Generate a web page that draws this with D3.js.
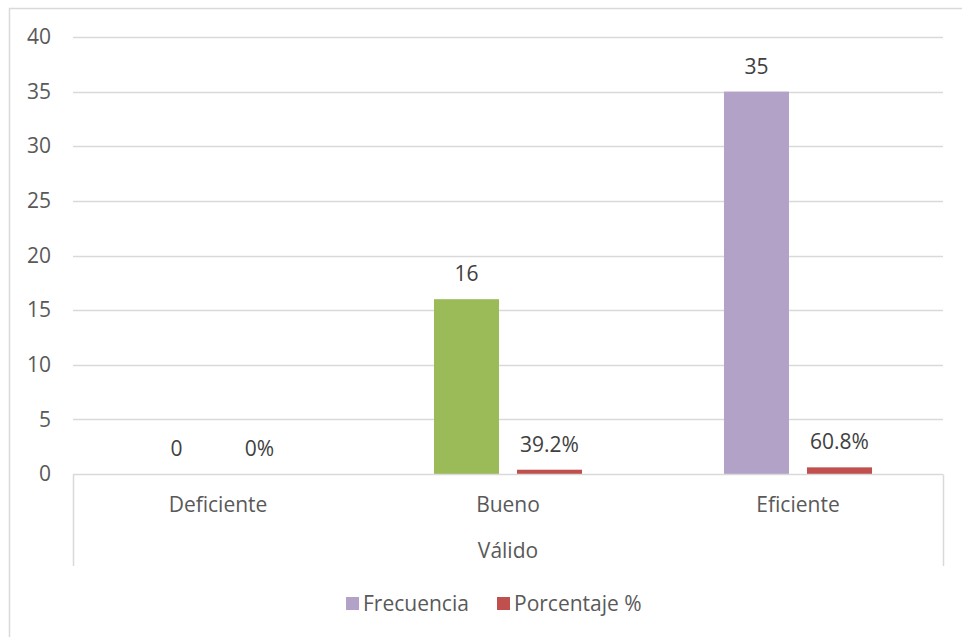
<!DOCTYPE html>
<html>
<head>
<meta charset="utf-8">
<script src="https://cdn.jsdelivr.net/npm/d3@7"></script>
<style>
  html, body { margin: 0; padding: 0; background: #fff; }
  svg { display: block; }
  text { font-family: "Open Sans", "Noto Sans", sans-serif; fill: #595959; }
</style>
</head>
<body>
<svg id="chart" width="962" height="637"></svg>
<script>
// Chart data
const categories = ["Deficiente", "Bueno", "Eficiente"];
const seriesNames = ["Frecuencia", "Porcentaje %"];
const frecuencia = [0, 16, 35];
const porcentaje = [0, 0.392, 0.608];
const yTicks = [0, 5, 10, 15, 20, 25, 30, 35, 40];
const groupLabel = "Válido";

// Colours: Frecuencia bars are coloured per category; percentages in red
const frecuenciaColors = ["#B3A2C7", "#9BBB59", "#B3A2C7"];
const porcentajeColor = "#C0504D";
const legendColors = ["#B3A2C7", "#C0504D"];

const svg = d3.select("#chart");
const fontSize = 21;

const plot = { left: 73, right: 943, top: 37, bottom: 474 };

// Outer chart frame
svg.append("rect")
  .attr("x", 9.5).attr("y", 8.5)
  .attr("width", 1000).attr("height", 700)
  .attr("fill", "none").attr("stroke", "#d9d9d9").attr("stroke-width", 1.5);

const y = d3.scaleLinear().domain([0, 40]).range([plot.bottom, plot.top]);
const x0 = d3.scaleBand().domain(categories).range([plot.left, plot.right]).padding(0);
const x1 = d3.scaleBand().domain(seriesNames).range([0, x0.bandwidth()])
  .paddingInner(18 / 83).paddingOuter(0.855);

// Gridlines
svg.append("g").selectAll("line")
  .data(yTicks.filter(d => d > 0))
  .join("line")
  .attr("x1", plot.left).attr("x2", plot.right)
  .attr("y1", d => Math.round(y(d)) + 0.5).attr("y2", d => Math.round(y(d)) + 0.5)
  .attr("stroke", "#d9d9d9").attr("stroke-width", 1.5);

// Y axis tick labels
const yAxis = d3.axisLeft(y).tickValues(yTicks).tickSize(0).tickPadding(0);
const yg = svg.append("g").attr("transform", `translate(51,0)`).call(yAxis);
yg.select(".domain").remove();
yg.selectAll("text")
  .attr("font-size", fontSize)
  .style("font-family", '"Open Sans", "Noto Sans", sans-serif')
  .attr("fill", "#595959");

// Bars
const rows = categories.map((c, i) => ({ cat: c, i, values: [frecuencia[i], porcentaje[i]] }));
const groups = svg.append("g").selectAll("g")
  .data(rows).join("g")
  .attr("transform", d => `translate(${x0(d.cat)},0)`);

groups.selectAll("rect")
  .data(d => d.values.map((v, k) => ({ v, k, i: d.i })))
  .join("rect")
  .attr("x", d => x1(seriesNames[d.k]))
  .attr("width", x1.bandwidth())
  .attr("y", d => y(d.v))
  .attr("height", d => y(0) - y(d.v))
  .attr("fill", d => d.k === 0 ? frecuenciaColors[d.i] : porcentajeColor);

// Value labels
const pctFmt = v => v === 0 ? "0%" : d3.format(".1%")(v);
groups.selectAll("text.val")
  .data(d => d.values.map((v, k) => ({ v, k })))
  .join("text")
  .attr("class", "val")
  .attr("x", d => x1(seriesNames[d.k]) + x1.bandwidth() / 2)
  .attr("y", d => y(d.v) - 18)
  .attr("text-anchor", "middle")
  .attr("font-size", fontSize)
  .style("fill", "#404040")
  .text(d => d.k === 0 ? d3.format("d")(d.v) : pctFmt(d.v));

// Category axis (multi-level)
const axisY = Math.round(y(0)) + 0.5;
svg.append("line")
  .attr("x1", plot.left).attr("x2", plot.right)
  .attr("y1", axisY).attr("y2", axisY)
  .attr("stroke", "#d9d9d9").attr("stroke-width", 1.5);
svg.append("g").selectAll("line")
  .data([plot.left, plot.right])
  .join("line")
  .attr("x1", d => d + 0.5).attr("x2", d => d + 0.5)
  .attr("y1", axisY).attr("y2", 566)
  .attr("stroke", "#d9d9d9").attr("stroke-width", 1.5);

svg.append("g").selectAll("text")
  .data(categories).join("text")
  .attr("x", d => x0(d) + x0.bandwidth() / 2)
  .attr("y", 512)
  .attr("text-anchor", "middle")
  .attr("font-size", fontSize)
  .text(d => d);

svg.append("text")
  .attr("x", (plot.left + plot.right) / 2)
  .attr("y", 558)
  .attr("text-anchor", "middle")
  .attr("font-size", fontSize)
  .text(groupLabel);

// Legend
const legendItems = [
  { name: seriesNames[0], color: legendColors[0], x: 346 },
  { name: seriesNames[1], color: legendColors[1], x: 497 }
];
const lg = svg.append("g").selectAll("g").data(legendItems).join("g")
  .attr("transform", d => `translate(${d.x},0)`);
lg.append("rect")
  .attr("x", 0).attr("y", 597).attr("width", 13).attr("height", 13)
  .attr("fill", d => d.color);
lg.append("text")
  .attr("x", 17).attr("y", 611)
  .attr("font-size", fontSize)
  .text(d => d.name);
</script>
</body>
</html>
